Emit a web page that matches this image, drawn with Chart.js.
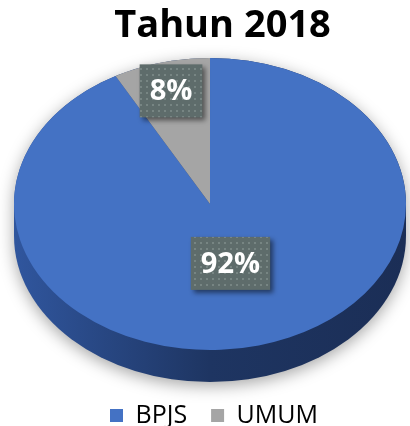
<!DOCTYPE html>
<html>
<head>
<meta charset="utf-8">
<script src="https://cdn.jsdelivr.net/npm/chart.js@4"></script>
<style>
  html, body { margin: 0; padding: 0; background: #fff; }
  #wrap { width: 410px; height: 426px; }
</style>
</head>
<body>
<div id="wrap"><canvas id="pieChart" width="410" height="426"></canvas></div>
<script>
// ---------- data ----------
const TITLE = 'Tahun 2018';
const CATEGORIES = ['BPJS', 'UMUM'];
const SHARES = [92, 8];
const COLORS = ['#4472C4', '#A5A5A5'];

// ---------- look of the tilted pie ----------
const FACE = { cx: 210, cy: 204, rx: 196, ry: 146, depth: 32 };
const LABEL_RADIUS = [0.42, 0.8];   // fraction of radius per slice label
const FONT = "'Open Sans', 'DejaVu Sans', sans-serif";

// dotted fill for the data label boxes
function dotPattern(ctx) {
    const p = document.createElement('canvas');
    p.width = 6; p.height = 6;
    const g = p.getContext('2d');
    g.fillStyle = '#5e6c6b';
    g.fillRect(0, 0, 6, 6);
    g.fillStyle = '#778583';
    g.fillRect(2, 2, 2, 2);
    return ctx.createPattern(p, 'repeat');
}

const pie3d = {
    id: 'pie3d',
    beforeDatasetsDraw(chart) {
        const arc = chart.getDatasetMeta(0).data[0];
        const r = arc.outerRadius, cx0 = arc.x, cy0 = arc.y;
        const ctx = chart.ctx;
        ctx.save();
        ctx.translate(FACE.cx, FACE.cy);
        ctx.scale(FACE.rx / r, FACE.ry / r);
        ctx.translate(-cx0, -cy0);

        // side wall + soft shadow
        const d = FACE.depth * r / FACE.ry;
        const grad = ctx.createLinearGradient(cx0 - r, 0, cx0 + r, 0);
        grad.addColorStop(0, '#30569e');
        grad.addColorStop(0.5, '#1e3562');
        grad.addColorStop(1, '#1b2e56');
        ctx.save();
        ctx.shadowColor = 'rgba(0,0,0,0.35)';
        ctx.shadowBlur = 16;
        ctx.shadowOffsetY = 4;
        ctx.beginPath();
        ctx.moveTo(cx0 + r, cy0);
        ctx.arc(cx0, cy0, r, 0, Math.PI, true);
        ctx.lineTo(cx0 - r, cy0 + d);
        ctx.arc(cx0, cy0 + d, r, Math.PI, 0, true);
        ctx.closePath();
        ctx.fillStyle = grad;
        ctx.fill();
        ctx.restore();
    },
    afterDatasetsDraw(chart) {
        const ctx = chart.ctx;
        ctx.restore();

        // data labels
        const meta = chart.getDatasetMeta(0);
        const fill = dotPattern(ctx);
        ctx.font = `bold 29px ${FONT}`;
        ctx.textAlign = 'center';
        ctx.textBaseline = 'middle';
        meta.data.forEach((arc, i) => {
            const mid = (arc.startAngle + arc.endAngle) / 2;
            const f = LABEL_RADIUS[i];
            const x = FACE.cx + Math.cos(mid) * FACE.rx * f;
            const y = FACE.cy + Math.sin(mid) * FACE.ry * f;
            const text = SHARES[i] + '%';
            const w = ctx.measureText(text).width + 20;
            const h = 53;
            ctx.save();
            ctx.shadowColor = 'rgba(0,0,0,0.5)';
            ctx.shadowBlur = 5;
            ctx.shadowOffsetX = 3;
            ctx.shadowOffsetY = 3;
            ctx.fillStyle = fill;
            ctx.fillRect(x - w / 2, y - h / 2, w, h);
            ctx.restore();
            ctx.fillStyle = '#ffffff';
            ctx.fillText(text, x, y + 1);
        });
    },
    afterDraw(chart) {
        // chart title, sits a little right of centre like the original
        const ctx = chart.ctx;
        ctx.save();
        ctx.font = `bold 38px ${FONT}`;
        ctx.fillStyle = '#000';
        ctx.textAlign = 'center';
        ctx.textBaseline = 'alphabetic';
        ctx.fillText(TITLE, 222.5, 37);
        ctx.restore();
    }
};

const chart = new Chart(document.getElementById('pieChart'), {
    type: 'pie',
    data: {
        labels: CATEGORIES,
        datasets: [{
            data: SHARES,
            backgroundColor: COLORS,
            borderWidth: 0,
        }]
    },
    options: {
        responsive: false,
        animation: false,
        layout: { padding: { left: 18, right: 0, top: 55, bottom: -12 } },
        plugins: {
            title: { display: false },
            legend: {
                position: 'bottom',
                labels: {
                    color: '#000',
                    boxWidth: 13,
                    boxHeight: 13,
                    padding: 24,
                    font: { family: FONT, size: 25 }
                }
            },
            tooltip: { enabled: false }
        }
    },
    plugins: [pie3d]
});
</script>
</body>
</html>
